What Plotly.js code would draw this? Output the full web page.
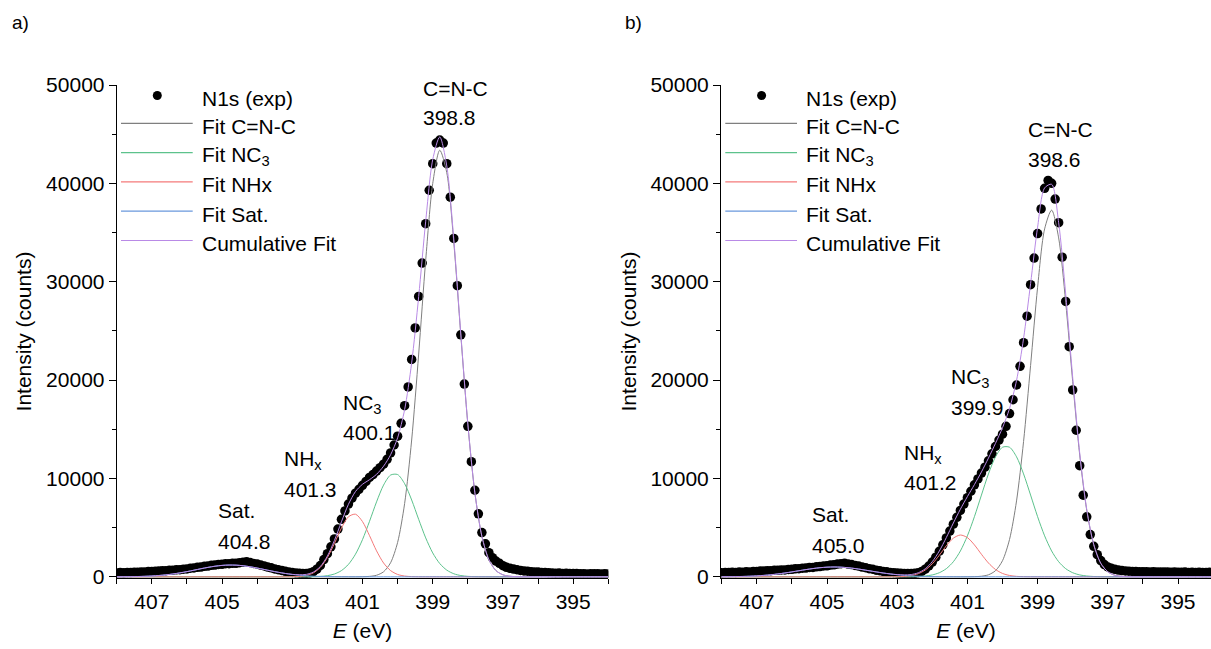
<!DOCTYPE html>
<html><head><meta charset="utf-8">
<script src="https://cdn.plot.ly/plotly-3.0.1.min.js"></script>
<style>html,body{margin:0;padding:0;background:#fff;}#chart{width:1211px;height:649px;}</style>
</head><body><div id="chart"></div>
<script>
// ---- measurement grid (binding energy, eV) ----
const energy = [
394.0,394.1,394.2,394.3,394.4,394.5,394.6,394.7,394.8,394.9,
395.0,395.1,395.2,395.3,395.4,395.5,395.6,395.7,395.8,395.9,
396.0,396.1,396.2,396.3,396.4,396.5,396.6,396.7,396.8,396.9,
397.0,397.1,397.2,397.3,397.4,397.5,397.6,397.7,397.8,397.9,
398.0,398.1,398.2,398.3,398.4,398.5,398.6,398.7,398.8,398.9,
399.0,399.1,399.2,399.3,399.4,399.5,399.6,399.7,399.8,399.9,
400.0,400.1,400.2,400.3,400.4,400.5,400.6,400.7,400.8,400.9,
401.0,401.1,401.2,401.3,401.4,401.5,401.6,401.7,401.8,401.9,
402.0,402.1,402.2,402.3,402.4,402.5,402.6,402.7,402.8,402.9,
403.0,403.1,403.2,403.3,403.4,403.5,403.6,403.7,403.8,403.9,
404.0,404.1,404.2,404.3,404.4,404.5,404.6,404.7,404.8,404.9,
405.0,405.1,405.2,405.3,405.4,405.5,405.6,405.7,405.8,405.9,
406.0,406.1,406.2,406.3,406.4,406.5,406.6,406.7,406.8,406.9,
407.0,407.1,407.2,407.3,407.4,407.5,407.6,407.7,407.8,407.9,
408.0];

// ---- panel a) experimental N1s counts ----
const expA = [
290,310,280,300,300,310,290,320,310,330,
340,330,360,350,380,370,390,410,440,450,
480,500,520,570,600,650,720,790,860,970,
1130,1370,1600,1950,2450,3350,4500,6400,8800,11700,
15300,19600,24600,29600,34400,38600,42000,44100,44400,44100,
42000,39300,35900,31900,28500,25300,22100,19300,17400,15600,
14300,13400,12600,11950,11450,11100,10750,10400,10100,9700,
9300,8900,8500,8000,7400,6700,5850,4850,3850,3050,
2350,1750,1150,780,520,400,350,340,370,400,
440,500,560,650,720,800,910,990,1110,1190,
1300,1360,1450,1520,1480,1430,1370,1370,1330,1330,
1270,1260,1190,1170,1090,1070,990,970,900,870,
800,780,730,710,670,660,620,610,580,570,
530,530,500,500,460,470,430,450,410,430,
400];

// ---- panel b) experimental N1s counts ----
const expB = [
440,460,430,450,460,450,460,450,480,460,
470,490,460,480,500,480,490,510,490,510,
510,520,530,550,570,600,640,690,760,860,
1000,1250,1650,2250,3100,4300,6100,8300,11300,14900,
19000,23400,28000,32500,36000,38400,40000,40300,39500,37400,
34900,32400,29700,26500,23800,21400,19500,18000,16600,15300,
14500,13900,13250,12500,11800,11150,10550,9950,9350,8700,
8050,7400,6750,6050,5350,4650,3950,3250,2600,2000,
1500,1100,780,550,420,360,340,330,340,360,
380,420,440,510,540,620,670,770,830,930,
990,1090,1150,1250,1300,1370,1330,1300,1220,1190,
1120,1100,1040,1020,960,950,890,880,830,810,
760,750,700,700,660,660,620,620,580,580,
540,540,500,510,470,480,450,460,430,440,
410];

// ---- fit grid ----
const energyFit = [
394.0,394.2,394.4,394.6,394.8,395.0,395.2,395.4,395.6,395.8,
396.0,396.2,396.4,396.6,396.8,397.0,397.2,397.4,397.6,397.8,
398.0,398.2,398.4,398.6,398.8,399.0,399.2,399.4,399.6,399.8,
400.0,400.2,400.4,400.6,400.8,401.0,401.2,401.4,401.6,401.8,
402.0,402.2,402.4,402.6,402.8,403.0,403.2,403.4,403.6,403.8,
404.0,404.2,404.4,404.6,404.8,405.0,405.2,405.4,405.6,405.8,
406.0,406.2,406.4,406.6,406.8,407.0,407.2,407.4,407.6,407.8,
408.0];

// ---- panel a) fit components ----
const fitCNC_A = [
0,0,0,0,0,0,0,0,0,0,
0,0,3,14,57,204,635,1730,4112,8541,
15502,24560,33991,41087,43370,39989,32198,22646,13910,7460,
3496,1430,511,160,44,10,0,0,0,0,
0,0,0,0,0,0,0,0,0,0,
0,0,0,0,0,0,0,0,0,0,
0,0,0,0,0,0,0,0,0,0,
0];
const fitNC3_A = [
0,0,0,0,0,0,0,0,0,0,
0,0,0,0,0,0,0,1,5,16,
48,129,311,681,1350,2429,3956,5840,7811,9467,
10396,10345,9327,7621,5642,3784,2300,1267,632,286,
117,43,15,4,1,0,0,0,0,0,
0,0,0,0,0,0,0,0,0,0,
0,0,0,0,0,0,0,0,0,0,
0];
const fitNHx_A = [
0,0,0,0,0,0,0,0,0,0,
0,0,0,0,0,0,0,0,0,0,
0,0,0,0,0,0,0,5,21,78,
242,634,1407,2639,4186,5614,6367,6105,4950,3395,
1968,965,400,140,42,10,2,0,0,0,
0,0,0,0,0,0,0,0,0,0,
0,0,0,0,0,0,0,0,0,0,
0];
const fitSat_A = [
0,0,0,0,0,0,0,0,0,0,
0,0,0,0,0,0,0,0,0,0,
0,0,0,0,0,0,0,0,0,0,
0,0,0,0,0,0,0,3,7,13,
23,40,66,106,164,241,341,462,600,748,
894,1024,1125,1186,1198,1161,1079,962,822,673,
529,399,288,200,133,84,52,30,17,9,
5];
const cumFit_A = [
0,0,0,0,0,0,0,0,0,0,
0,0,3,14,57,204,635,1731,4117,8557,
15550,24689,34302,41768,44720,42418,36154,28491,21742,17005,
14134,12409,11245,10420,9872,9408,8667,7375,5589,3694,
2108,1048,481,250,207,251,343,462,600,748,
894,1024,1125,1186,1198,1161,1079,962,822,673,
529,399,288,200,133,84,52,30,17,9,
5];

// ---- panel b) fit components ----
const fitCNC_B = [
0,0,0,0,0,0,0,0,0,0,
0,2,11,47,162,504,1365,3246,6767,12376,
19855,27927,34454,37276,35369,29435,21481,13748,7717,3797,
1640,621,206,60,15,3,0,0,0,0,
0,0,0,0,0,0,0,0,0,0,
0,0,0,0,0,0,0,0,0,0,
0,0,0,0,0,0,0,0,0,0,
0];
const fitNC3_B = [
0,0,0,0,0,0,0,0,0,0,
0,0,0,0,1,4,12,33,83,193,
417,831,1536,2628,4166,6114,8311,10463,12200,13173,
13173,12200,10463,8311,6114,4166,2628,1536,831,417,
193,83,33,12,4,1,0,0,0,0,
0,0,0,0,0,0,0,0,0,0,
0,0,0,0,0,0,0,0,0,0,
0];
const fitNHx_B = [
0,0,0,0,0,0,0,0,0,0,
0,0,0,0,0,0,0,0,0,0,
0,0,0,0,0,1,4,14,48,138,
344,747,1404,2292,3245,3987,4249,3930,3154,2196,
1327,695,316,125,43,13,3,0,0,0,
0,0,0,0,0,0,0,0,0,0,
0,0,0,0,0,0,0,0,0,0,
0];
const fitSat_B = [
0,0,0,0,0,0,0,0,0,0,
0,0,0,0,0,0,0,0,0,0,
0,0,0,0,0,0,0,0,0,0,
0,0,0,0,0,0,0,4,7,13,
23,39,62,97,146,210,292,389,500,618,
735,841,926,981,1000,981,926,841,735,618,
500,389,292,210,146,97,62,39,23,13,
7];
const cumFit_B = [
0,0,0,0,0,0,0,0,0,0,
0,2,11,47,163,508,1377,3279,6850,12569,
20272,28758,35990,39904,39535,35550,29796,24225,19965,17108,
15157,13568,12073,10663,9374,8156,6877,5470,3992,2626,
1543,817,411,234,193,224,295,389,500,618,
735,841,926,981,1000,981,926,841,735,618,
500,389,292,210,146,97,62,39,23,13,
7];

// ---- texts ----
const seriesNames = ['N1s (exp)', 'Fit C=N-C', 'Fit NC<sub>3</sub>', 'Fit NHx', 'Fit Sat.', 'Cumulative Fit'];
const panelTags = ['a)', 'b)'];
const peakNamesA = ['C=N-C', 'NC<sub>3</sub>', 'NH<sub>x</sub>', 'Sat.'];
const peakPosA = ['398.8', '400.1', '401.3', '404.8'];
const peakNamesB = ['C=N-C', 'NC<sub>3</sub>', 'NH<sub>x</sub>', 'Sat.'];
const peakPosB = ['398.6', '399.9', '401.2', '405.0'];
const xTitle = '<i>E</i> (eV)';
const yTitle = 'Intensity (counts)';

// ---- styling ----
const FONT = 'Liberation Sans, Arial, Helvetica, sans-serif';
const FS = 21;
const colors = {cnc:'#7f7f7f', nc3:'#5cc28c', nhx:'#f47a7a', sat:'#6a98dc', cum:'#b98ae6'};
const W = 1211, TOP = 85, BOT = 578;
const px = v => v / W;
const py = v => (BOT - v) / (BOT - TOP);

function panelTraces(xa, ya, exp, cnc, nc3, nhx, sat, cum) {
  const line = (y, c, name) => ({x: energyFit, y: y, xaxis: xa, yaxis: ya, type: 'scatter', mode: 'lines',
    name: name, showlegend: false, line: {color: c, width: 1, shape: 'spline', smoothing: 0.8}, hoverinfo: 'skip'});
  return [
    {x: energy, y: exp, xaxis: xa, yaxis: ya, type: 'scatter', mode: 'markers', name: seriesNames[0],
     showlegend: false, marker: {color: '#000', size: 9.5}, hoverinfo: 'skip'},
    line(cnc, colors.cnc, seriesNames[1]),
    line(nc3, colors.nc3, seriesNames[2]),
    line(nhx, colors.nhx, seriesNames[3]),
    line(sat, colors.sat, seriesNames[4]),
    line(cum, colors.cum, seriesNames[5])
  ];
}

const data = [].concat(
  panelTraces('x', 'y', expA, fitCNC_A, fitNC3_A, fitNHx_A, fitSat_A, cumFit_A),
  panelTraces('x2', 'y2', expB, fitCNC_B, fitNC3_B, fitNHx_B, fitSat_B, cumFit_B)
);

const shapes = [], annotations = [];
const legendRows = [95.5, 123.3, 152.6, 181.9, 211.2, 240.5];
const legendColors = [null, colors.cnc, colors.nc3, colors.nhx, colors.sat, colors.cum];
[0, 604.3].forEach((off, p) => {
  legendRows.forEach((ry, i) => {
    if (i === 0) {
      shapes.push({type: 'circle', xref: 'paper', yref: 'paper', xsizemode: 'pixel', ysizemode: 'pixel',
        xanchor: px(157.3 + off), yanchor: py(ry), x0: -4.5, x1: 4.5, y0: -4.5, y1: 4.5,
        fillcolor: '#000', line: {width: 0}});
    } else {
      shapes.push({type: 'line', xref: 'paper', yref: 'paper', x0: px(121 + off), x1: px(192.7 + off),
        y0: py(ry), y1: py(ry), line: {color: legendColors[i], width: 1.2}});
    }
    annotations.push({xref: 'paper', yref: 'paper', x: px(200 + off), y: py(ry + 3), xanchor: 'left', yanchor: 'middle',
      text: seriesNames[i], showarrow: false, font: {family: FONT, size: FS, color: '#000'}});
  });
  annotations.push({xref: 'paper', yref: 'paper', x: px(10 + off * 1.0136), y: py(22), xanchor: 'left', yanchor: 'middle',
    text: panelTags[p], showarrow: false, font: {family: FONT, size: 19, color: '#000'}});
});

function peakLabels(names, vals, pos) {
  names.forEach((n, i) => {
    const [lx, cy1, cy2] = pos[i];
    annotations.push({xref: 'paper', yref: 'paper', x: px(lx), y: py(cy1), xanchor: 'left', yanchor: 'middle',
      text: n, showarrow: false, font: {family: FONT, size: FS, color: '#000'}});
    annotations.push({xref: 'paper', yref: 'paper', x: px(lx), y: py(cy2), xanchor: 'left', yanchor: 'middle',
      text: vals[i], showarrow: false, font: {family: FONT, size: FS, color: '#000'}});
  });
}
peakLabels(peakNamesA, peakPosA, [[421.5, 88, 118], [341, 404, 433], [282, 460, 489], [216, 510, 541]]);
peakLabels(peakNamesB, peakPosB, [[1026, 129, 159], [949, 378, 407], [902, 454, 482], [810, 514, 545]]);

function xAxis(domain, range, anchor) {
  return {domain: domain, range: range, anchor: anchor, autorange: false,
    tickmode: 'linear', tick0: 395, dtick: 2, ticks: 'outside', ticklen: 5, tickwidth: 1, tickcolor: '#000',
    minor: {tick0: 394, dtick: 1, ticks: 'outside', ticklen: 5, tickwidth: 1, tickcolor: '#000', showgrid: false},
    showline: true, linecolor: '#000', linewidth: 1, showgrid: false, zeroline: false,
    tickfont: {family: FONT, size: FS, color: '#000'},
    title: {text: xTitle, font: {family: FONT, size: FS, color: '#000'}, standoff: 11}};
}
function yAxis(anchor) {
  return {domain: [0, 1], range: [-120, 50000], anchor: anchor, autorange: false,
    tickmode: 'linear', tick0: 0, dtick: 10000, tickformat: 'd', exponentformat: 'none',
    ticks: 'outside', ticklen: 7, tickwidth: 1, tickcolor: '#000',
    minor: {dtick: 5000, ticks: 'outside', ticklen: 4, tickwidth: 1, tickcolor: '#000', showgrid: false},
    showline: true, linecolor: '#000', linewidth: 1, showgrid: false, zeroline: false,
    tickfont: {family: FONT, size: FS, color: '#000'},
    title: {text: yTitle, font: {family: FONT, size: FS, color: '#000'}, standoff: 8}};
}

const layout = {
  width: 1211, height: 649,
  margin: {l: 0, r: 0, t: TOP, b: 649 - BOT, pad: 0},
  paper_bgcolor: '#fff', plot_bgcolor: '#fff',
  font: {family: FONT, size: FS, color: '#000'},
  showlegend: false,
  xaxis: xAxis([116.7 / W, 608.3 / W], [408, 394], 'y'),
  yaxis: yAxis('x'),
  xaxis2: xAxis([721 / W, 1], [408.02, 394.06], 'y2'),
  yaxis2: yAxis('x2'),
  shapes: shapes,
  annotations: annotations
};

Plotly.newPlot('chart', data, layout, {displayModeBar: false});
</script></body></html>
